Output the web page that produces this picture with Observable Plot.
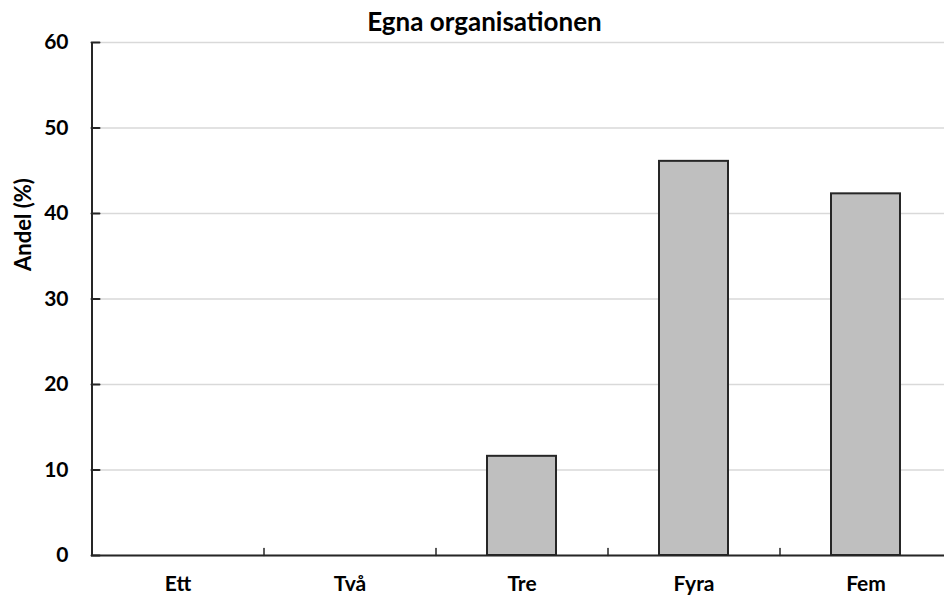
<!DOCTYPE html>
<html>
<head>
<meta charset="utf-8">
<script src="https://cdn.jsdelivr.net/npm/d3@7"></script>
<script src="https://cdn.jsdelivr.net/npm/@observablehq/plot@0.6"></script>
<style>
  html, body { margin: 0; padding: 0; background: #fff; overflow: hidden; }
  #chart svg { display: block; }
</style>
</head>
<body>
<div id="chart"></div>
<script>
const title = "Egna organisationen";
const yLabel = "Andel (%)";
const categories = ["Ett", "Två", "Tre", "Fyra", "Fem"];
const values = [0, 0, 11.6, 46.1, 42.3];
const yTicks = [0, 10, 20, 30, 40, 50, 60];

const data = categories.map((c, i) => ({category: c, value: values[i]}));

const width = 944, height = 595;
const marginLeft = 91, marginRight = -7, marginTop = 42, marginBottom = 40;
const step = (width - marginLeft - marginRight) / categories.length;
const axisColor = "#262626";
const tickShape = {draw(context, l) { context.moveTo(0, 0); context.lineTo(0, -l); }};

const chart = Plot.plot({
  width, height, marginLeft, marginRight, marginTop, marginBottom,
  style: {fontFamily: "Lato, 'Open Sans', sans-serif", fontSize: "21px", fontWeight: "bold", color: "#000", background: "#fff"},
  x: {type: "band", domain: categories, paddingInner: 0.6, paddingOuter: 0.3, label: null},
  y: {domain: [0, 60], label: null},
  marks: [
    Plot.gridY(yTicks, {stroke: "#d9d9d9", strokeOpacity: 1, strokeWidth: 1.3}),
    Plot.barY(data.filter(d => d.value > 0), {x: "category", y: "value", fill: "#bfbfbf", stroke: axisColor, strokeWidth: 2}),
    Plot.ruleX([0], {x: () => categories[0], dx: -step / 2, y1: 0, y2: 60, stroke: axisColor, strokeWidth: 2}),
    Plot.ruleY([0], {stroke: axisColor, strokeWidth: 2}),
    Plot.vector(yTicks, {y: d => d, frameAnchor: "left", rotate: 90, length: 8, anchor: "start", shape: tickShape, stroke: axisColor, strokeWidth: 2}),
    Plot.vector(categories.slice(1), {x: d => d, dx: -step / 2, frameAnchor: "bottom", rotate: 0, length: 7, anchor: "start", shape: tickShape, stroke: axisColor, strokeWidth: 1.5}),
    Plot.axisY(yTicks, {tickSize: 0, tickPadding: 23, fill: "#000", fontSize: 21, label: null}),
    Plot.axisX({tickSize: 0, tickPadding: 21, fill: "#000", fontSize: 21, label: null}),
    Plot.text([yLabel], {frameAnchor: "left", rotate: -90, dx: -68, dy: -28, fontSize: 22, fill: "#000"}),
    Plot.text([title], {frameAnchor: "top", dx: -37, dy: -12, lineAnchor: "bottom", fontSize: 26, fill: "#000"})
  ]
});
document.getElementById("chart").appendChild(chart);
</script>
</body>
</html>
